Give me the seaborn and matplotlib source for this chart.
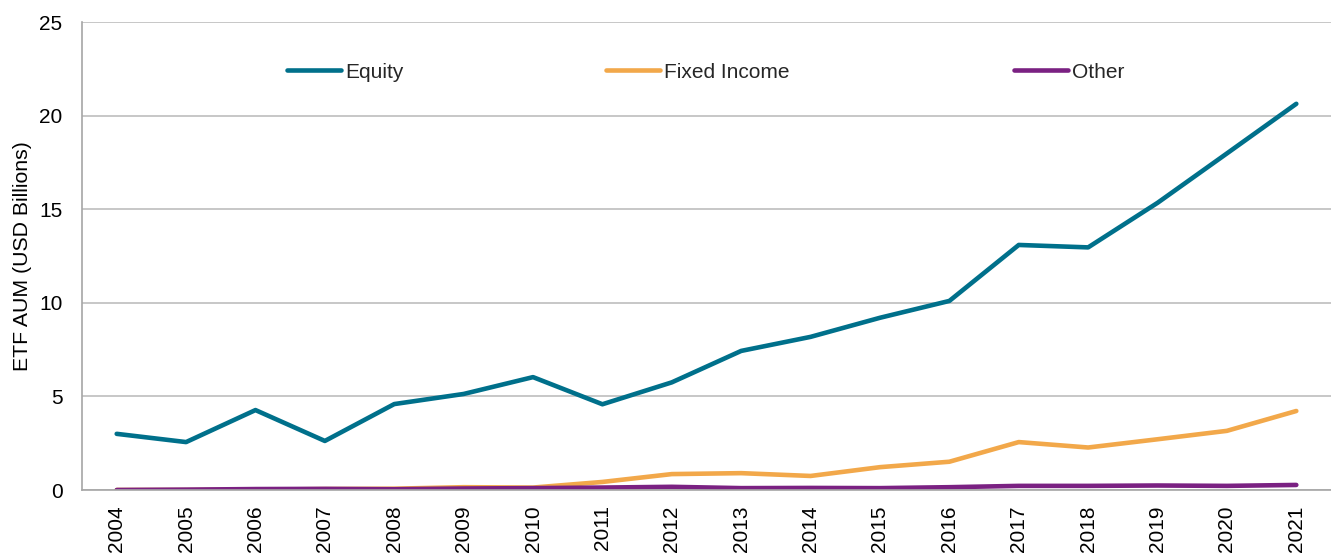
import matplotlib
matplotlib.use("Agg")
import matplotlib.pyplot as plt
from matplotlib.legend import Legend
import seaborn as sns
import pandas as pd

years = [str(y) for y in range(2004, 2022)]
equity = [3.0, 2.56, 4.27, 2.62, 4.59, 5.13, 6.03, 4.58, 5.75, 7.43, 8.18, 9.2, 10.1, 13.09, 12.96, 15.34, 17.98, 20.63]
fixed_income = [0.0, 0.0, 0.02, 0.05, 0.07, 0.15, 0.13, 0.43, 0.85, 0.9, 0.75, 1.22, 1.51, 2.56, 2.27, 2.71, 3.16, 4.22]
other = [0.0, 0.02, 0.05, 0.06, 0.04, 0.08, 0.1, 0.13, 0.17, 0.1, 0.11, 0.1, 0.15, 0.22, 0.22, 0.24, 0.22, 0.27]
series_names = ["Equity", "Fixed Income", "Other"]
colors = ["#00708B", "#F2A84A", "#7A2182"]

df = pd.concat([
    pd.DataFrame({"Year": years, "Value": vals, "Series": name})
    for name, vals in zip(series_names, [equity, fixed_income, other])
])

sns.set_theme(style="white")
plt.rcParams["font.family"] = ["Liberation Sans", "DejaVu Sans"]

fig = plt.figure(figsize=(13.31, 5.53), dpi=100)
ax = fig.add_axes([82 / 1331, 63 / 553, 1249 / 1331, 468 / 553])

sns.lineplot(data=df, x="Year", y="Value", hue="Series", hue_order=series_names,
             palette=colors, linewidth=3.3, ax=ax, sort=False,
             solid_capstyle="round", legend=True)

ax.set_xlim(-0.5, len(years) - 0.5)
ax.set_ylim(0, 25)
ax.set_yticks([0, 5, 10, 15, 20, 25])
ax.yaxis.grid(True, color="#BDBDBD", linewidth=1.2)
ax.xaxis.grid(False)
ax.set_axisbelow(True)
for s in ["top", "right"]:
    ax.spines[s].set_visible(False)
for s in ["left", "bottom"]:
    ax.spines[s].set_color("#A6A6A6")
    ax.spines[s].set_linewidth(1.2)

ax.tick_params(axis="y", length=0, pad=14, labelsize=15, labelcolor="#000000")
ax.tick_params(axis="x", length=0, pad=11, labelsize=15, labelcolor="#000000", rotation=90)
ax.set_xlabel("")
ax.set_ylabel("ETF AUM (USD Billions)", fontsize=15.3, color="#000000")
ax.yaxis.set_label_coords(-0.0404, 0.5)

handles, labels = ax.get_legend_handles_labels()
ax.get_legend().remove()
anchors = [0.1641, 0.4195, 0.7462]
for h, lab, xa in zip(handles, labels, anchors):
    leg = Legend(ax, [h], [lab], loc="center left", bbox_to_anchor=(xa, 0.893),
                 frameon=False, fontsize=15, handlelength=2.6, handletextpad=0.2,
                 borderpad=0, borderaxespad=0)
    for line in leg.get_lines():
        line.set_linewidth(3.3)
        line.set_solid_capstyle("round")
    ax.add_artist(leg)

fig.savefig("out.png", dpi=100)
